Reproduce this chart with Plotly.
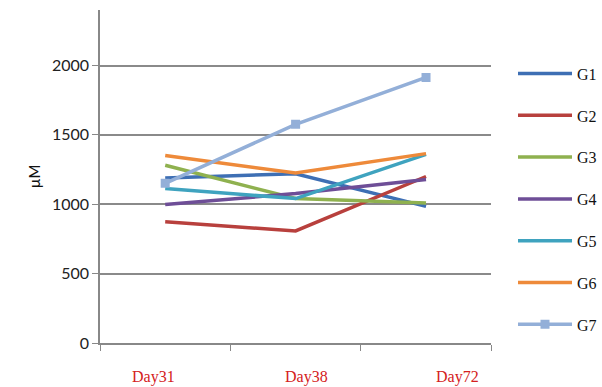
import plotly.graph_objects as go

# Sampling days and concentrations (µM) per group
days = ["Day31", "Day38", "Day72"]
g1 = [1190, 1220, 985]
g2 = [873, 808, 1200]
g3 = [1281, 1041, 1009]
g4 = [998, 1077, 1178]
g5 = [1113, 1041, 1360]
g6 = [1352, 1225, 1365]
g7 = [1151, 1576, 1914]

series = {"G1": g1, "G2": g2, "G3": g3, "G4": g4, "G5": g5, "G6": g6, "G7": g7}
colors = {
    "G1": "#3E6FB4",
    "G2": "#B8403D",
    "G3": "#8FB14F",
    "G4": "#6E4E97",
    "G5": "#3FA3BF",
    "G6": "#EE8A3A",
    "G7": "#93AFD8",
}

# day label offsets along the category axis
label_pos = [-0.09, 1.08, 2.24]
x_idx = list(range(len(days)))

fig = go.Figure()
for name, vals in series.items():
    marker = dict(symbol="square", size=9, color=colors[name]) if name == "G7" else None
    fig.add_trace(go.Scatter(
        x=x_idx, y=vals, name=name, legendgroup=name,
        mode="lines+markers" if name == "G7" else "lines",
        line=dict(color=colors[name], width=3.5),
        marker=marker,
    ))

for pos, lab in zip(label_pos, days):
    fig.add_annotation(x=pos, y=0, xref="x", yref="y", text=lab, showarrow=False,
                       yshift=-34, font=dict(family="Liberation Serif", size=16, color="#D42020"))

fig.update_layout(
    width=602, height=387,
    margin=dict(l=100, r=0, t=10, b=44),
    paper_bgcolor="white", plot_bgcolor="white",
    showlegend=True,
    legend=dict(x=0.825, y=0.86, xanchor="left", yanchor="top",
                tracegroupgap=18, itemwidth=54,
                font=dict(family="Liberation Serif", size=16, color="#111")),
    xaxis=dict(domain=[0, 392 / 502], range=[-0.5, 2.5], tickmode="array",
               tickvals=[-0.5, 0.5, 1.5, 2.5],
               showticklabels=False, ticks="outside", ticklen=6, tickcolor="#888",
               showline=True, linecolor="#888", linewidth=1.5, showgrid=False, zeroline=False),
    yaxis=dict(range=[0, 2400], tickvals=[0, 500, 1000, 1500, 2000],
               ticks="outside", ticklen=6, tickcolor="#888",
               showline=True, linecolor="#888", linewidth=1.5,
               showgrid=True, gridcolor="#8a8a8a", gridwidth=1.5, zeroline=False,
               tickfont=dict(family="Lato", size=16, color="#222"),
               title=dict(text="µM", font=dict(family="Lato", size=15, color="#111"), standoff=8)),
)

fig.write_html("out.html")
